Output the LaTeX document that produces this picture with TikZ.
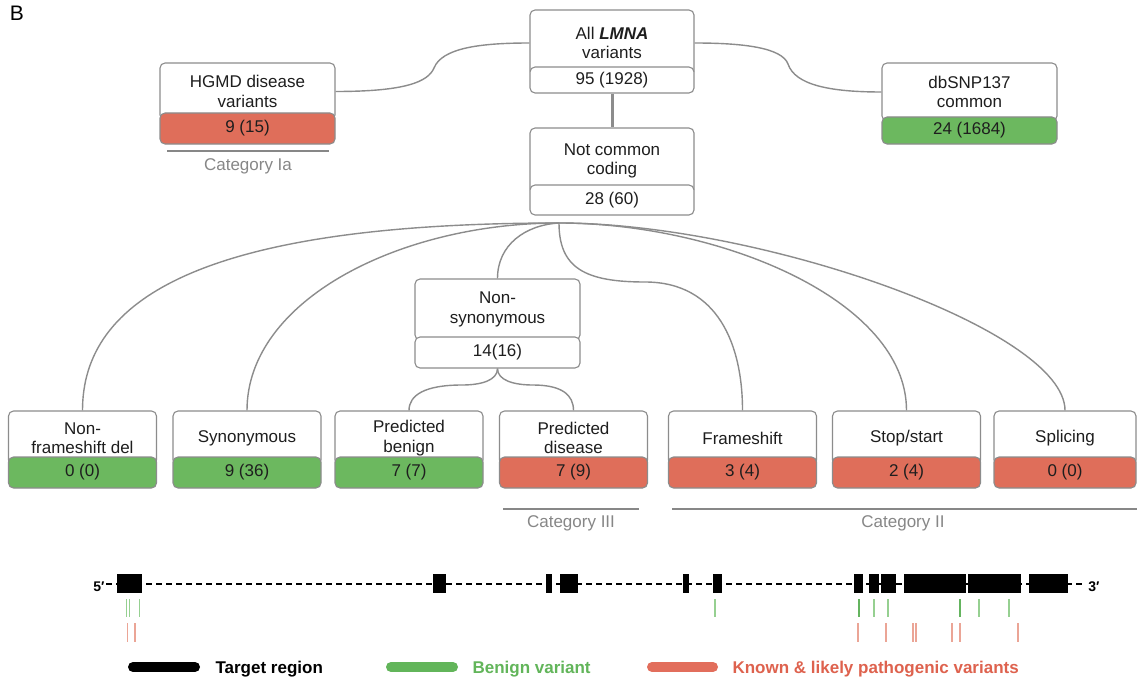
\documentclass[tikz,border=0pt]{standalone}
\usepackage{fontspec}
\setmainfont{Liberation Sans}
\usetikzlibrary{calc}
\definecolor{bord}{RGB}{140,140,140}
\definecolor{conn}{RGB}{140,140,140}
\definecolor{gfill}{RGB}{108,184,95}
\definecolor{rfill}{RGB}{223,110,90}
\definecolor{txt}{RGB}{30,30,30}
\definecolor{cat}{RGB}{135,135,135}
\definecolor{gtick}{RGB}{150,208,145}
\definecolor{gtickd}{RGB}{100,180,95}
\definecolor{rtick}{RGB}{235,165,150}
\definecolor{gleg}{RGB}{98,181,90}
\definecolor{rleg}{RGB}{222,98,78}
\definecolor{rbar}{RGB}{226,110,92}
\newcommand{\botbox}[6]{%
  \node[titlebox, minimum width=#3pt, minimum height=54pt] (#1T) at (#2,438) {#4};
  \node[#5, minimum width=#3pt, minimum height=31pt] (#1C) at (#2,472.5) {#6};
}
\begin{document}
\begin{tikzpicture}[x=1pt,y=-1pt,
  every node/.style={font=\fontsize{17}{19.5}\selectfont, text=txt},
  boxbase/.style={draw=bord, line width=1.1pt, rounded corners=5pt, inner sep=0pt, align=center},
  titlebox/.style={boxbase, fill=white},
  whitecount/.style={boxbase, fill=white},
  redcount/.style={boxbase, fill=rfill},
  greencount/.style={boxbase, fill=gfill},
  link/.style={draw=conn, line width=1.4pt},
  catline/.style={draw=cat, line width=1.4pt},
  cattext/.style={text=cat},
  intron/.style={line width=2pt, dash pattern=on 6pt off 4pt},
  gtk/.style={draw=gtick, line width=1.2pt},
  gtkd/.style={draw=gtickd, line width=1.2pt},
  rtk/.style={draw=rtick, line width=1.2pt},
  legbar/.style={line width=10pt, line cap=round},
  legtext/.style={font=\bfseries\fontsize{17}{20}\selectfont, anchor=west}
]
\useasboundingbox (0,0) rectangle (1137,682);
\fill[white] (0,0) rectangle (1137,682);

\node[font=\fontsize{21}{21}\selectfont, text=black] (lab) at (17,13) {B};

% ---- top level boxes
\node[titlebox, minimum width=164pt, minimum height=66pt] (lmnaT) at (612,43) {All \textbf{\textit{LMNA}}\\variants};
\node[whitecount, minimum width=164pt, minimum height=26pt] (lmnaC) at (612,80) {95 (1928)};

\node[titlebox, minimum width=175pt, minimum height=57pt] (hgmdT) at (247.5,91.5) {HGMD disease\\variants};
\node[redcount, minimum width=175pt, minimum height=31pt] (hgmdC) at (247.5,128.5) {9 (15)};

\node[titlebox, minimum width=175pt, minimum height=58pt] (dbsnpT) at (969.5,92) {dbSNP137\\common};
\node[greencount, minimum width=175pt, minimum height=27pt] (dbsnpC) at (969.5,130.5) {24 (1684)};

\node[titlebox, minimum width=164pt, minimum height=66pt] (nccT) at (612,161) {Not common\\coding};
\node[whitecount, minimum width=164pt, minimum height=30pt] (nccC) at (612,200) {28 (60)};

\node[titlebox, minimum width=165pt, minimum height=61pt] (nsT) at (497.5,309.5) {Non-\\synonymous};
\node[whitecount, minimum width=165pt, minimum height=31pt] (nsC) at (497.5,352.5) {14(16)};

% ---- bottom row
\botbox{bA}{82.5}{148}{Non-\\frameshift del}{greencount}{0 (0)}
\botbox{bB}{247}{148}{Synonymous}{greencount}{9 (36)}
\botbox{bC}{409}{148}{Predicted\\benign}{greencount}{7 (7)}
\botbox{bD}{573.5}{148}{Predicted\\disease}{redcount}{7 (9)}
\botbox{bE}{742.5}{148}{Frameshift}{redcount}{3 (4)}
\botbox{bF}{906.5}{148}{Stop/start}{redcount}{2 (4)}
\botbox{bG}{1065}{142}{Splicing}{redcount}{0 (0)}

% ---- connectors
\draw[link] (hgmdT.east) .. controls (405,91.5) and (428,82) .. (434,68) .. controls (442,48) and (480,43) .. (lmnaT.west);
\draw[link] (lmnaT.east) .. controls (745,43) and (782,48) .. (788,64) .. controls (795,85) and (830,92) .. (dbsnpT.west);
\draw[conn, line width=3pt] (lmnaC.south) -- (nccT.north);

\coordinate (fan) at (559,223);
\draw[link] (fan) .. controls (200,223) and (82.5,300) .. (bAT.north);
\draw[link] (fan) .. controls (400,223) and (247,300) .. (bBT.north);
\draw[link] (fan) .. controls (525,225) and (497.5,245) .. (nsT.north);
\draw[link] (fan) .. controls (559,268) and (585,282) .. (645,282) .. controls (718,282) and (742.5,345) .. (bET.north);
\draw[link] (fan) .. controls (720,223) and (906.5,300) .. (bFT.north);
\draw[link] (fan) .. controls (760,223) and (1065,330) .. (bGT.north);

\draw[link] (nsC.south) .. controls (497.5,380) and (482,385) .. (462,385) .. controls (425,385) and (409,395) .. (bCT.north);
\draw[link] (nsC.south) .. controls (497.5,380) and (513,385) .. (533,385) .. controls (562,385) and (573.5,395) .. (bDT.north);

% ---- categories
\draw[catline] (167,151) -- (329,151);
\node[cattext] (catIa) at (248,166) {Category Ia};
\draw[catline] (503,509) -- (639,509);
\node[cattext] (catIII) at (571,523) {Category III};
\draw[catline] (672,509) -- (1137,509);
\node[cattext] (catII) at (903,523) {Category II};

% ---- gene track
\draw[intron] (106,583.5) -- (1085,583.5);
\foreach \a/\b in {117/142, 433/446, 546/552, 560/578, 683/689, 713/722, 854/863, 869/879, 881/896, 904/966, 968/1021, 1029/1068}
  \fill[black] (\a,574) rectangle (\b,593);
\node[font=\bfseries\fontsize{14}{14}\selectfont, text=black] (five) at (99,587) {5′};
\node[font=\bfseries\fontsize{14}{14}\selectfont, text=black] (three) at (1094,587) {3′};

\foreach \x in {126.7,129.3,139.3,715,874,888,979,1009}
  \draw[gtk] (\x,599) -- (\x,617);
\foreach \x in {859,960}
  \draw[gtkd] (\x,599) -- (\x,617);
\foreach \x in {127.7,135,858,886,913,916,952,960}
  \draw[rtk] (\x,623) -- (\x,642);
\draw[rtk, line width=2pt] (1018,623) -- (1018,642);

% ---- legend
\draw[legbar, black] (133,667) -- (195,667);
\node[legtext, text=black] (lt1) at (212,669) {Target region};
\draw[legbar, gleg] (391,667) -- (453,667);
\node[legtext, text=gleg] (lt2) at (469,669) {Benign variant};
\draw[legbar, rbar] (652,667) -- (713,667);
\node[legtext, text=rleg] (lt3) at (729,669) {Known \& likely pathogenic variants};
\end{tikzpicture}
\end{document}
